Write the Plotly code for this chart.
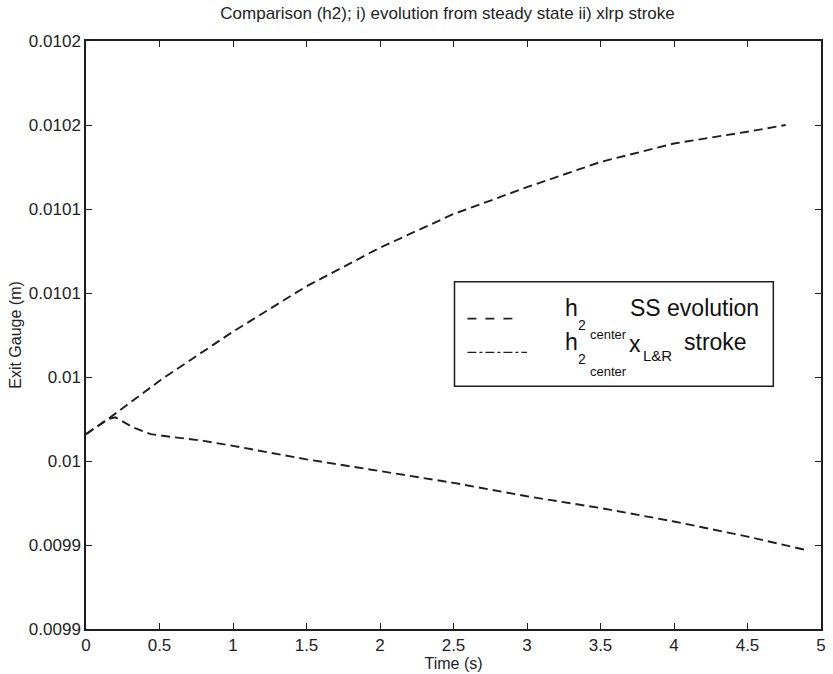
import plotly.graph_objects as go

# ---- data ----
time_ss = [0.0, 0.15, 0.52, 1.0, 1.5, 2.0, 2.5, 3.0, 3.5, 4.0, 4.5, 4.76]
h2_ss = [0.009966, 0.009975, 0.009999, 0.010027, 0.010054, 0.010077,
         0.010097, 0.010113, 0.010128, 0.010139, 0.010146, 0.010150]

time_stroke = [0.0, 0.15, 0.2, 0.32, 0.44, 0.52, 0.8, 1.0, 1.5, 2.0,
               2.5, 3.0, 3.5, 4.0, 4.5, 4.9]
h2_stroke = [0.009966, 0.009975, 0.009976, 0.009970, 0.009966, 0.009965,
             0.009962, 0.009959, 0.009951, 0.009944, 0.009937, 0.009929,
             0.009922, 0.009914, 0.009905, 0.009897]

x_ticks = [0, 0.5, 1, 1.5, 2, 2.5, 3, 3.5, 4, 4.5, 5]
x_labels = ["0", "0.5", "1", "1.5", "2", "2.5", "3", "3.5", "4", "4.5", "5"]
y_ticks = [0.00985, 0.0099, 0.00995, 0.0100, 0.01005, 0.0101, 0.01015, 0.0102]
y_labels = ["0.0099", "0.0099", "0.01", "0.01", "0.0101", "0.0101", "0.0102", "0.0102"]

W, H = 833, 674
L, R, T, B = 86, 826, 41, 632
FONT = "Liberation Sans, Arial, Helvetica, sans-serif"
INK = "#1e1e1e"


def px(x):
    return (x - L) / (R - L)


def py(y):
    return (B - y) / (B - T)


fig = go.Figure()
fig.add_trace(go.Scatter(x=time_ss, y=h2_ss, mode="lines", name="h2 SS evolution",
                         line=dict(color=INK, width=1.9, dash="9px,5px"),
                         showlegend=False))
fig.add_trace(go.Scatter(x=time_stroke, y=h2_stroke, mode="lines",
                         name="h2 center x L&R stroke",
                         line=dict(color=INK, width=1.9, dash="9px,5px"),
                         showlegend=False))

axis_common = dict(showline=True, linecolor=INK, linewidth=1.5, mirror="ticks",
                   ticks="inside", ticklen=6, tickcolor=INK, tickwidth=1.2,
                   showgrid=False, zeroline=False,
                   tickfont=dict(family=FONT, size=17, color="#222"))

fig.update_xaxes(range=[0, 5], tickvals=x_ticks, ticktext=x_labels,
                 title=dict(text="Time (s)", font=dict(family=FONT, size=16, color="#222"),
                            standoff=1),
                 **axis_common)
fig.update_yaxes(range=[0.00985, 0.0102], tickvals=y_ticks, ticktext=y_labels,
                 title=dict(text="Exit Gauge (m)", font=dict(family=FONT, size=16, color="#222"),
                            standoff=3),
                 **axis_common)

shapes = [
    dict(type="rect", xref="paper", yref="paper", x0=px(457), x1=px(778),
         y0=py(388), y1=py(283), line=dict(color=INK, width=1.5), fillcolor="white",
         layer="above"),
    dict(type="line", xref="paper", yref="paper", x0=px(470), x1=px(522),
         y0=py(320), y1=py(320), line=dict(color=INK, width=1.6, dash="dash"),
         layer="above"),
    dict(type="line", xref="paper", yref="paper", x0=px(470), x1=px(530),
         y0=py(354), y1=py(354), line=dict(color=INK, width=1.2, dash="dashdot"),
         layer="above"),
]


def ann(text, x, y, size):
    return dict(text=text, xref="paper", yref="paper", x=px(x), y=py(y),
                xanchor="left", yanchor="middle", showarrow=False,
                font=dict(family=FONT, size=size, color="#111"))


annotations = [
    ann("h", 566, 309, 23),
    ann("2", 579, 326, 14),
    ann("SS evolution", 632, 309, 23),
    ann("h", 566, 344, 23),
    ann("center", 591, 336, 13),
    ann("2", 579, 361, 14),
    ann("center", 591, 373, 13),
    ann("x", 631, 346, 23),
    ann("L&R", 645, 357, 15),
    ann("stroke", 686, 344, 23),
]

fig.update_layout(
    width=W, height=H,
    margin=dict(l=L, r=W - R, t=T, b=H - B),
    paper_bgcolor="white", plot_bgcolor="white",
    title=dict(text="Comparison (h2); i) evolution from steady state ii) xlrp stroke",
               x=px(450), xref="paper", xanchor="center", y=1 - 13 / H, yanchor="middle",
               font=dict(family=FONT, size=17, color="#222")),
    shapes=shapes, annotations=annotations,
    showlegend=False,
)

fig.write_html("out.html")
